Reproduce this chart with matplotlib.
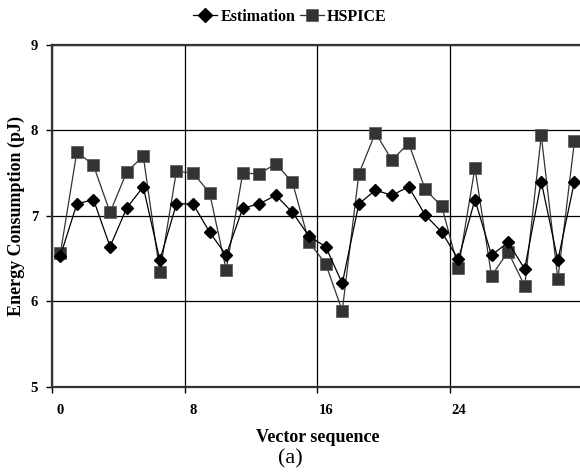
import matplotlib
matplotlib.use('Agg')
import matplotlib.pyplot as plt
import numpy as np

plt.rcParams['font.family'] = ['Liberation Serif', 'DejaVu Serif']

# values
vectors = np.arange(32)
estimation = [6.53, 7.14, 7.19, 6.64, 7.09, 7.34, 6.48, 7.14, 7.14, 6.81,
              6.54, 7.09, 7.14, 7.24, 7.04, 6.76, 6.64, 6.21, 7.14, 7.30,
              7.24, 7.34, 7.01, 6.81, 6.49, 7.19, 6.54, 6.69, 6.38, 7.40,
              6.48, 7.40]
hspice = [6.56, 7.75, 7.59, 7.04, 7.51, 7.70, 6.34, 7.52, 7.50, 7.27,
          6.37, 7.50, 7.49, 7.61, 7.39, 6.69, 6.44, 5.89, 7.49, 7.97,
          7.65, 7.85, 7.31, 7.11, 6.39, 7.56, 6.30, 6.58, 6.18, 7.94,
          6.26, 7.87]
xtick_pos = [0, 8, 16, 24]
ytick_pos = [5, 6, 7, 8, 9]

fig = plt.figure(figsize=(5.8, 4.75), dpi=100)
ax = fig.add_axes([0.0897, 0.1853, 0.915, 0.7206])

# category axis: points sit in the middle of each slot
xc = vectors + 0.5
ax.plot(xc, estimation, color='black', lw=0.9, marker='D', ms=6.5,
        mfc='black', mec='black', label='Estimation', zorder=4)
ax.plot(xc, hspice, color='#333333', lw=0.9, marker='s', ms=8,
        mfc='#333333', mec='#555555', mew=0.5, label='HSPICE', zorder=3)

ax.set_xlim(0, 32)
ax.set_ylim(5, 9)
ax.set_yticks(ytick_pos)
ax.set_yticklabels([str(v) for v in ytick_pos], fontweight='bold', fontsize=10.5)
ax.set_xticks(xtick_pos + [32])
ax.set_xticklabels([])
ax.set_xticks([p + 0.5 for p in xtick_pos], minor=True)
ax.set_xticklabels([str(p) for p in xtick_pos], minor=True, fontweight='bold', fontsize=10.5)
ax.tick_params(axis='x', which='minor', length=0, pad=12)
ax.tick_params(axis='both', which='major', length=4, width=1, color='black', direction='out')
ax.tick_params(axis='y', pad=6)

ax.grid(True, which='major', color='black', lw=0.9)
ax.spines['right'].set_visible(False)
for s in ['left', 'bottom', 'top']:
    ax.spines[s].set_linewidth(1.6)
    ax.spines[s].set_color('#333333')

ax.set_ylabel('Energy Consumption (pJ)', fontweight='bold', fontsize=13, labelpad=4)
ax.set_xlabel('Vector sequence', fontweight='bold', fontsize=13, labelpad=9)
fig.text(0.5, 0.034, '(a)', ha='center', va='center', fontsize=16)

fig.legend(loc='upper center', bbox_to_anchor=(0.5, 1.012), ncol=2, frameon=False,
           handlelength=1.5, handletextpad=0.2, columnspacing=0.3, markerscale=1.1,
           prop={'weight': 'bold', 'size': 11.5})

plt.savefig('out.png', dpi=100)
